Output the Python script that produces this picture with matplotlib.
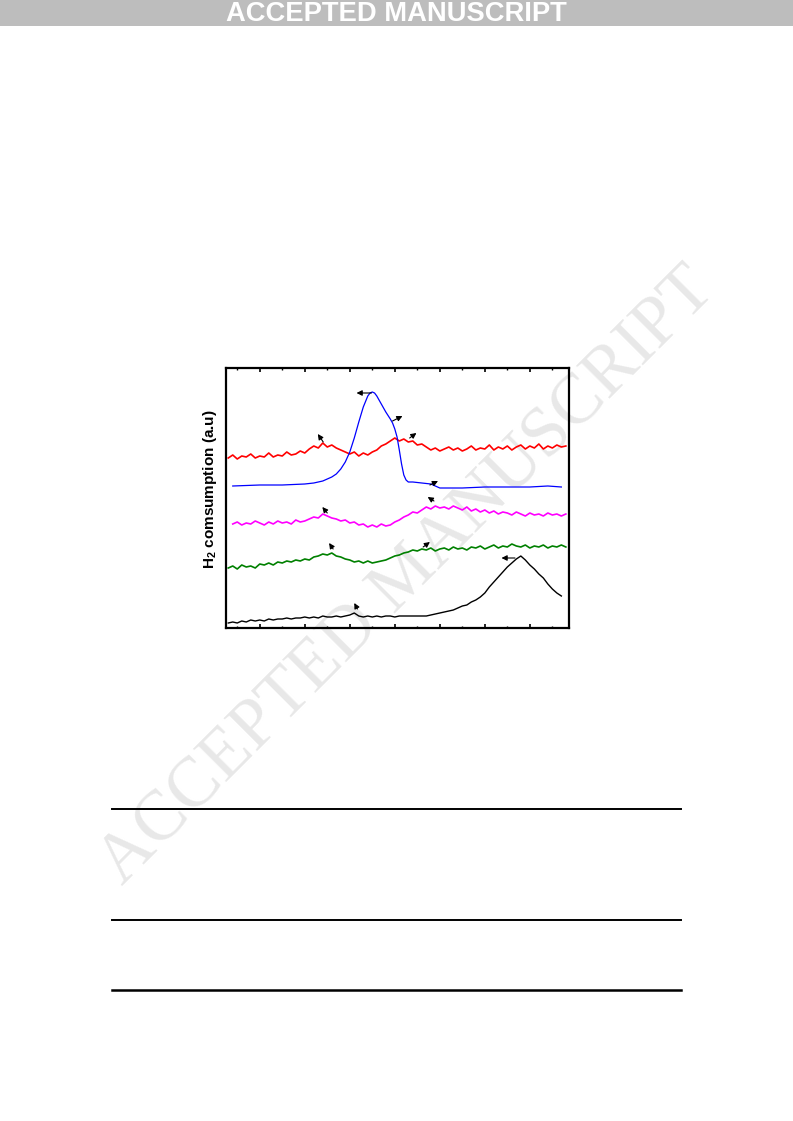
import numpy as np
import matplotlib
matplotlib.use("Agg")
import matplotlib.pyplot as plt
from matplotlib.lines import Line2D
from matplotlib.patches import Rectangle

# temperature grid (deg C) for the noisy traces
temp = np.arange(30, 790, 10)

red = [170, 173, 169, 172, 171, 174, 170, 172, 171, 175, 171, 173, 172, 176, 173, 174,
       177, 175, 179, 182, 180, 185, 181, 183, 180, 178, 176, 174, 176, 172, 175, 173,
       176, 178, 182, 184, 187, 190, 187, 189, 186, 187, 183, 184, 181, 178, 180, 177,
       179, 181, 178, 180, 177, 179, 182, 178, 180, 179, 183, 178, 181, 179, 182, 178,
       181, 183, 179, 182, 180, 184, 179, 182, 180, 183, 181, 182]

magenta = [104, 106, 103, 105, 104, 107, 105, 103, 106, 104, 107, 105, 106, 104, 108,
           106, 107, 109, 111, 110, 114, 112, 110, 109, 107, 108, 105, 106, 103, 104,
           101, 103, 101, 104, 102, 103, 106, 108, 111, 113, 116, 115, 118, 121, 119,
           122, 120, 121, 119, 122, 120, 118, 121, 117, 119, 116, 118, 115, 117, 114,
           116, 115, 113, 116, 114, 112, 115, 113, 114, 112, 115, 113, 114, 112, 114]

green = [60, 62, 59, 63, 61, 62, 60, 64, 63, 65, 63, 66, 65, 67, 66, 68, 67, 69, 68, 71,
         72, 74, 73, 75, 72, 71, 69, 68, 66, 67, 65, 67, 65, 66, 67, 68, 70, 72, 73, 75,
         76, 78, 77, 79, 78, 80, 77, 79, 80, 78, 81, 79, 80, 78, 81, 80, 82, 79, 81, 83,
         80, 82, 81, 84, 82, 81, 83, 80, 82, 81, 83, 80, 82, 81, 83, 81]

black = [5, 6, 5, 7, 6, 8, 7, 8, 7, 9, 8, 9, 9, 10, 9, 10, 10, 11, 10, 11, 10, 12, 11,
         11, 12, 11, 12, 13, 15, 12, 11, 12, 11, 12, 11, 12, 12, 11, 12, 12, 12, 12, 12,
         12, 12, 13, 14, 15, 16, 17, 18, 20, 22, 23, 26, 28, 31, 35, 41, 46, 51, 56, 61,
         65, 69, 72, 68, 63, 59, 54, 50, 44, 39, 35, 32]

# smooth blue trace
blue_t = [40, 100, 150, 200, 220, 240, 250, 260, 270, 280, 290, 300, 310, 320, 330, 340,
          345, 350, 355, 360, 370, 380, 390, 395, 400, 405, 410, 415, 420, 425, 430, 440,
          460, 480, 490, 500, 550, 600, 650, 700, 740, 770]
blue = [142, 143, 143, 144, 145, 147, 149, 151, 154, 159, 166, 176, 190, 206, 221, 232,
        235, 236, 235, 232, 224, 216, 209, 205, 199, 191, 178, 164, 153, 148, 146, 146,
        145, 144, 142, 140, 140, 141, 141, 141, 142, 141]

# peak markers: (tail_x, tail_y, head_x, head_y)
arrows = [
    (241, 186, 229, 194), (433, 190, 448, 195),
    (348, 235, 315, 235), (395, 207, 417, 212), (478, 143, 496, 147),
    (250, 115, 239, 121), (487, 127, 473, 131),
    (263, 79, 254, 85), (463, 81, 478, 86),
    (667, 70, 637, 70), (317, 19, 310, 25),
]

fig = plt.figure(figsize=(7.93, 11.21), dpi=100)

# header banner
fig.add_artist(Rectangle((0, 1 - 26 / 1121), 1, 26 / 1121, transform=fig.transFigure,
                         facecolor="#bdbdbd", edgecolor="none", zorder=-3))
fig.text(0.5, 1 - 14 / 1121, "ACCEPTED MANUSCRIPT", ha="center", va="center",
         color="white", fontsize=19.7, fontweight="bold", family="Liberation Sans")

# diagonal watermark
fig.text(408 / 793, 1 - 577 / 1121, "ACCEPTED MANUSCRIPT", ha="center", va="center",
         rotation=45, rotation_mode="anchor", color="#e8e8e8", fontsize=51,
         family="Liberation Serif", zorder=-2)

ax = fig.add_axes([226 / 793, 1 - 628 / 1121, 343 / 793, 260 / 1121])
ax.patch.set_alpha(0)

ax.plot(temp[:len(red)], red, color="#ff0000", lw=1.2)
ax.plot(blue_t, blue, color="#0000ff", lw=0.9)
ax.plot(temp[1:1 + len(magenta)], magenta, color="#ff00ff", lw=1.2)
ax.plot(temp[:len(green)], green, color="#008000", lw=1.2)
ax.plot(temp[:len(black)], black, color="black", lw=1.0)

for tx, ty, hx, hy in arrows:
    ax.annotate("", xy=(hx, hy), xytext=(tx, ty),
                arrowprops=dict(arrowstyle="-|>", color="black", lw=0.8,
                                mutation_scale=8, shrinkA=0, shrinkB=0))

ax.set_xlim(25, 787)
ax.set_ylim(0, 260)
ax.set_xticks(range(100, 800, 100))
ax.set_xticks(range(50, 800, 100), minor=True)
ax.set_yticks([])
ax.tick_params(axis="x", which="major", direction="in", length=3, width=1.2,
               top=True, labelbottom=False)
ax.tick_params(axis="x", which="minor", direction="in", length=1.5, width=1,
               top=True)
for s in ax.spines.values():
    s.set_linewidth(1.6)

ax.set_ylabel("H$_\\mathregular{2}$ comsumption (a.u)", fontsize=11,
              fontweight="bold", family="Liberation Sans")
ax.yaxis.set_label_coords(-0.02, 0.535)

# table rules below the figure
for yy, lw in [(809, 1.4), (920, 1.4), (990, 1.8)]:
    fig.add_artist(Line2D([112 / 793, 681 / 793], [1 - yy / 1121, 1 - yy / 1121],
                          transform=fig.transFigure, color="black", lw=lw))

fig.savefig("out.png", dpi=100)
